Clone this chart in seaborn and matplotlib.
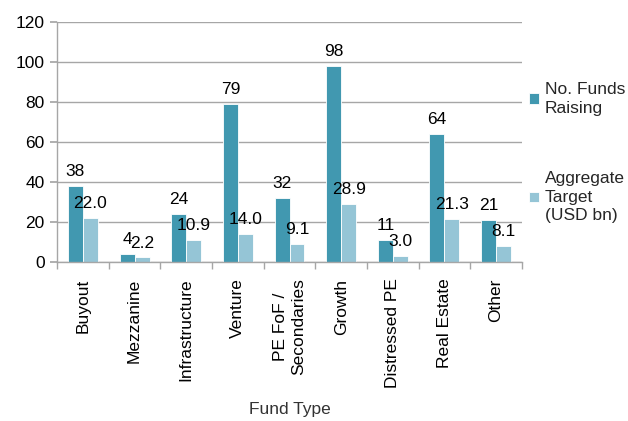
import matplotlib
matplotlib.use("Agg")
import matplotlib.pyplot as plt
import seaborn as sns
import pandas as pd
import numpy as np

categories = ["Buyout", "Mezzanine", "Infrastructure", "Venture", "PE FoF /\nSecondaries",
              "Growth", "Distressed PE", "Real Estate", "Other"]
funds_raising = [38, 4, 24, 79, 32, 98, 11, 64, 21]
aggregate_target = [22.0, 2.2, 10.9, 14.0, 9.1, 28.9, 3.0, 21.3, 8.1]
series_names = ["No. Funds\nRaising", "Aggregate\nTarget\n(USD bn)"]
colors = ["#4198B0", "#95C5D6"]

df = pd.DataFrame({
    "Fund Type": categories * 2,
    "value": funds_raising + aggregate_target,
    "series": [series_names[0]] * len(categories) + [series_names[1]] * len(categories),
})

sns.set_theme(style="white")
plt.rcParams['font.family'] = ['Liberation Sans', 'DejaVu Sans']
FS = 12.5

fig = plt.figure(figsize=(6.28, 4.21), dpi=100)
ax = fig.add_axes([0.091, 0.378, 0.740, 0.570])

sns.barplot(data=df, x="Fund Type", y="value", hue="series", palette=colors,
            width=0.58, ax=ax, saturation=1, errorbar=None, legend=True,
            edgecolor="white", linewidth=0.6)

fmts = ["%d", "%.1f"]
for cont, fmt in zip(ax.containers, fmts):
    ax.bar_label(cont, fmt=fmt, padding=5, fontsize=FS, color="black")

ax.set_ylim(0, 120)
ax.set_yticks(np.arange(0, 121, 20))
ax.yaxis.grid(True, color="#A6A6A6", linewidth=1)
ax.set_axisbelow(True)
ax.set_xlim(-0.5, len(categories) - 0.5)

for s in ["top", "right"]:
    ax.spines[s].set_visible(False)
for s in ["left", "bottom"]:
    ax.spines[s].set_color("#A6A6A6")
    ax.spines[s].set_linewidth(1)

ax.tick_params(axis="y", length=5, color="#A6A6A6", labelsize=FS, labelcolor="black", direction="out", left=True, pad=4)
ax.tick_params(axis="x", which="major", length=0, labelsize=FS, labelcolor="black", rotation=90, pad=12)
ax.set_xticks(np.arange(-0.5, len(categories) + 0.5, 1), minor=True)
ax.tick_params(axis="x", which="minor", length=5, color="#A6A6A6", direction="out", bottom=True)

ax.set_ylabel("")
ax.set_xlabel("Fund Type", fontsize=FS, color="#333333", labelpad=10)

handles, labels = ax.get_legend_handles_labels()
leg = ax.legend(handles, labels, loc="center left", bbox_to_anchor=(0.99, 0.455), frameon=False,
                fontsize=FS, handlelength=0.55, handleheight=0.55, handletextpad=0.35,
                labelspacing=3.2, borderaxespad=0.3)
for t in leg.get_texts():
    t.set_linespacing(1.3)

fig.savefig("out.png", dpi=100)
